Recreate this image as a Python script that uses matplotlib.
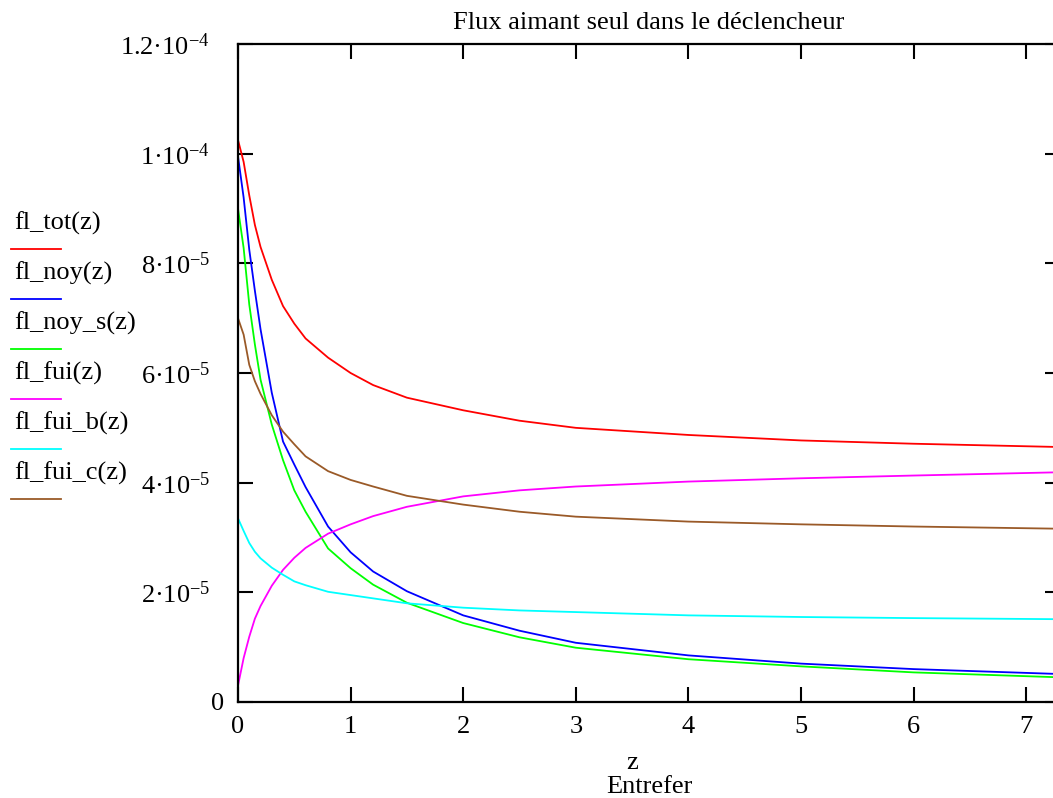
import numpy as np
import matplotlib
matplotlib.use("Agg")
import matplotlib.pyplot as plt
import matplotlib.transforms as mtransforms
from matplotlib.lines import Line2D

plt.rcParams['font.family'] = ['Liberation Serif', 'DejaVu Serif']
plt.rcParams['mathtext.fontset'] = 'custom'
plt.rcParams['mathtext.rm'] = 'Liberation Serif'
plt.rcParams['mathtext.it'] = 'Liberation Serif'

# %% data (values in units of 1e-5)
z = [0, 0.05, 0.1, 0.15, 0.2, 0.3, 0.4, 0.5, 0.6, 0.8, 1.0, 1.2, 1.5,
     2.0, 2.5, 3.0, 4.0, 5.0, 6.0, 7.3]
fl_tot = [10.25, 9.85, 9.24, 8.7, 8.3, 7.7, 7.22, 6.9, 6.63, 6.28, 6.0, 5.78,
          5.55, 5.32, 5.13, 5.0, 4.87, 4.77, 4.71, 4.65]
fl_noy = [9.95, 9.2, 8.25, 7.5, 6.8, 5.64, 4.75, 4.33, 3.92, 3.2, 2.73, 2.38,
          2.02, 1.58, 1.3, 1.08, 0.85, 0.7, 0.6, 0.51]
fl_noy_s = [9.0, 8.28, 7.25, 6.52, 5.88, 5.06, 4.41, 3.86, 3.47, 2.8, 2.44,
            2.14, 1.81, 1.44, 1.18, 0.99, 0.78, 0.65, 0.54, 0.45]
fl_fui = [0.3, 0.8, 1.19, 1.52, 1.75, 2.12, 2.41, 2.63, 2.81, 3.07, 3.24,
          3.39, 3.56, 3.75, 3.86, 3.93, 4.02, 4.08, 4.13, 4.19]
fl_fui_b = [3.35, 3.12, 2.9, 2.74, 2.62, 2.45, 2.32, 2.2, 2.13, 2.01, 1.95,
            1.89, 1.8, 1.72, 1.67, 1.64, 1.58, 1.55, 1.53, 1.51]
fl_fui_c = [7.0, 6.7, 6.15, 5.85, 5.62, 5.23, 4.93, 4.7, 4.48, 4.21, 4.05,
            3.93, 3.76, 3.6, 3.47, 3.38, 3.29, 3.24, 3.2, 3.16]

names = ['fl_tot(z)', 'fl_noy(z)', 'fl_noy_s(z)', 'fl_fui(z)', 'fl_fui_b(z)', 'fl_fui_c(z)']
series = [fl_tot, fl_noy, fl_noy_s, fl_fui, fl_fui_b, fl_fui_c]
colours = ['#ff0000', '#0000ff', '#00ff00', '#ff00ff', '#00ffff', '#9a5a28']

yticks = [0, 2e-5, 4e-5, 6e-5, 8e-5, 1e-4, 1.2e-4]
ylabels = ['0', '2·10$^{-5}$', '4·10$^{-5}$', '6·10$^{-5}$',
           '8·10$^{-5}$', '1·10$^{-4}$', '1.2·10$^{-4}$']
xticks = [0, 1, 2, 3, 4, 5, 6, 7]

FS = 19

# %% figure
fig = plt.figure(figsize=(10.53, 7.98), dpi=100)
W, H = 1053, 798
ax = fig.add_axes([238 / W, (H - 702) / H, (1060 - 238) / W, (702 - 44) / H])

for vals, c in zip(series, colours):
    ax.plot(z, np.array(vals) * 1e-5, color=c, lw=1.3)

ax.set_xlim(0, 7.3)
ax.set_ylim(0, 1.2e-4)
ax.set_xticks(xticks)
ax.set_yticks(yticks)
ax.set_yticklabels(ylabels)
ax.tick_params(direction='in', length=11, width=1.5, labelsize=FS,
               top=True, right=True, colors='black')
ax.tick_params(axis='y', pad=20)
ax.tick_params(axis='x', pad=10)
for s in ax.spines.values():
    s.set_linewidth(1.6)

# the "0" label sits closer to the axis in the original
zero_lab = ax.yaxis.get_major_ticks()[0].label1
zero_lab.set_transform(zero_lab.get_transform() +
                       mtransforms.ScaledTranslation(14 / 100, 0, fig.dpi_scale_trans))

ax.set_title('Flux aimant seul dans le déclencheur', fontsize=FS, pad=11)
fig.text(632 / W, 1 - 763 / H, 'z', fontsize=FS, ha='center', va='center')
fig.text(649 / W, 1 - 787 / H, 'Entrefer', fontsize=FS, ha='center', va='center')

# legend on the left, Mathcad style
for i, (n, c) in enumerate(zip(names, colours)):
    ty = 223 + 50 * i
    fig.text(14 / W, 1 - ty / H, n, fontsize=FS, ha='left', va='center')
    fig.add_artist(Line2D([11 / W, 61 / W], [1 - (ty + 26) / H] * 2,
                          color=c, lw=1.3, transform=fig.transFigure))

fig.savefig('out.png', dpi=100)
